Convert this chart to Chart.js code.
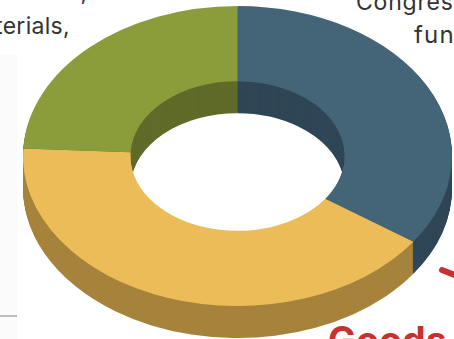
<!DOCTYPE html>
<html lang="en">
<head>
  <meta charset="UTF-8" />
  <title>Funding sources</title>
  <script src="https://cdn.jsdelivr.net/npm/chart.js"></script>
  <style>
    * { margin: 0; padding: 0; box-sizing: border-box; }
    html, body { width: 454px; height: 339px; overflow: hidden; background: #fff; }
    #stage { position: relative; width: 454px; height: 339px; overflow: hidden; }
    #stage canvas { position: absolute; left: 0; top: 0; }
    .side-panel { position: absolute; left: 0; top: 55px; width: 17px; height: 284px; background: #fbfbfb; }
    .side-rule { position: absolute; left: 0; top: 315px; width: 17px; height: 2px; background: #bdbdbd; }
    .note { position: absolute; font-family: Inter, 'Open Sans', sans-serif; font-size: 23px; line-height: 28px; letter-spacing: 0.8px; color: #333; white-space: nowrap; }
    .goods { position: absolute; left: 328px; top: 318px; font-family: Inter, sans-serif; font-weight: 700; font-size: 37px; line-height: 44px; letter-spacing: 0.4px; color: #c9302e; white-space: nowrap; }
    .tick { position: absolute; left: 439px; top: 267px; width: 22px; height: 6px; border-radius: 3px; background: #c9302e; transform: rotate(22deg); transform-origin: 3px 3px; }
  </style>
</head>
<body>
<div id="stage">
  <div class="side-panel"></div>
  <div class="side-rule"></div>
  <div class="note" style="right:366px; top:-22px;">products,</div>
  <div class="note" style="right:384px; top:12px; letter-spacing:0.3px;">materials,</div>
  <div class="note" style="left:356px; top:-12px;">Congress</div>
  <div class="note" style="left:414px; top:21px; font-size:24px; letter-spacing:1.2px;">funds</div>
  <div class="goods">Goods</div>
  <div class="tick"></div>
  <canvas id="ringChart" width="454" height="339"></canvas>
</div>

<script>
const categories = ["Congress funds", "Goods", "Raw materials"];
const shares = [34.7, 41.1, 24.2];
const topColors = ["#446478", "#ecbc58", "#8b9c3a"];
const wallColors = ["#2f4656", "#a6833c", "#616b29"];

// tilted ring: where the top face sits and how thick the slab is
const ringX = 237.5, ringY = 156, ringW = 214.5, ringH = 150, ringDepth = 32;

const tiltPlugin = {
  id: "tilt",
  beforeDatasetsDraw(chart) {
    const ctx = chart.ctx;
    const arcs = chart.getDatasetMeta(0).data;
    const r = arcs[0].outerRadius;

    const squash = (shift) => {
      ctx.setTransform(ringW / r, 0, 0, ringH / r, ringX - arcs[0].x * ringW / r, ringY + shift - arcs[0].y * ringH / r);
    };

    // side walls, stacked from the bottom of the slab upward
    ctx.save();
    for (let d = ringDepth; d > 0; d--) {
      squash(d);
      arcs.forEach((arc, i) => {
        ctx.beginPath();
        ctx.arc(arc.x, arc.y, arc.outerRadius, arc.startAngle, arc.endAngle);
        ctx.arc(arc.x, arc.y, arc.innerRadius, arc.endAngle, arc.startAngle, true);
        ctx.closePath();
        ctx.fillStyle = wallColors[i];
        ctx.fill();
      });
    }
    ctx.restore();

    // the library's own arcs become the top face
    ctx.save();
    squash(0);
  },
  afterDatasetsDraw(chart) {
    chart.ctx.restore();
  }
};

new Chart(document.getElementById("ringChart"), {
  type: "doughnut",
  data: {
    labels: categories,
    datasets: [{
      data: shares,
      backgroundColor: topColors,
      borderWidth: 0,
      clip: false
    }]
  },
  options: {
    responsive: false,
    animation: false,
    cutout: "49.9%",
    events: [],
    plugins: {
      legend: { display: false },
      tooltip: { enabled: false }
    }
  },
  plugins: [tiltPlugin]
});
</script>
</body>
</html>
